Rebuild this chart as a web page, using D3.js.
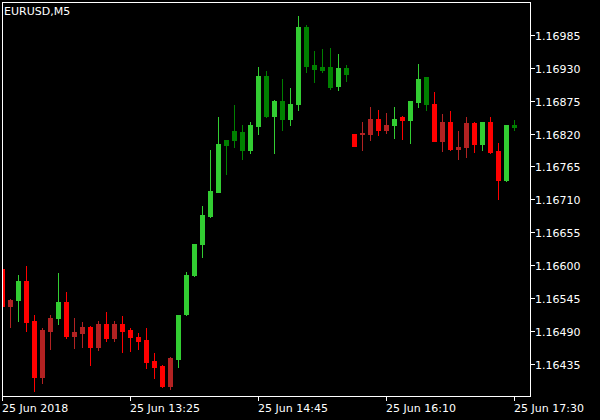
<!DOCTYPE html>
<html>
<head>
<meta charset="utf-8">
<script src="https://cdn.jsdelivr.net/npm/d3@7"></script>
<style>
  html, body { margin: 0; padding: 0; background: #000; }
  svg { display: block; }
  text { font-family: "DejaVu Sans", sans-serif; font-size: 11px; fill: #fff; }
</style>
</head>
<body>
<div id="chart"></div>
<script>
var W = 600, H = 420;

// M5 bars, oldest first
var open  = [1.16594,1.16531,1.16541,1.16573,1.16506,1.16413,1.16489,1.16511,1.16538,1.16481,
             1.16486,1.16496,1.16463,1.16501,1.16478,1.16501,1.16491,1.16480,1.16474,1.16439,
             1.16430,1.16397,1.16443,1.16518,1.16583,1.16635,1.16682,1.16722,1.16801,1.16809,
             1.16822,1.16792,1.16833,1.16917,1.16849,1.16875,1.16844,1.16869,1.16999,1.16934,
             1.16926,1.16932,1.16899,1.16929,1.16820,1.16820,1.16819,1.16845,1.16826,1.16834,
             1.16847,1.16842,1.16873,1.16914,1.16870,1.16807,1.16840,1.16794,1.16797,1.16837,
             1.16802,1.16840,1.16790,1.16742,1.16835];
var high  = [1.16598,1.16543,1.16583,1.16598,1.16517,1.16494,1.16517,1.16586,1.16554,1.16512,
             1.16504,1.16497,1.16506,1.16521,1.16506,1.16514,1.16494,1.16486,1.16494,1.16452,
             1.16432,1.16446,1.16517,1.16588,1.16635,1.16698,1.16793,1.16847,1.16809,1.16867,
             1.16835,1.16839,1.16932,1.16924,1.16877,1.16912,1.16897,1.17016,1.17001,1.16959,
             1.16961,1.16964,1.16954,1.16934,1.16820,1.16840,1.16865,1.16859,1.16855,1.16864,
             1.16850,1.16874,1.16937,1.16914,1.16889,1.16852,1.16857,1.16824,1.16847,1.16840,
             1.16840,1.16847,1.16805,1.16835,1.16842];
var low   = [1.16530,1.16496,1.16506,1.16489,1.16389,1.16403,1.16459,1.16501,1.16478,1.16461,
             1.16463,1.16433,1.16458,1.16473,1.16473,1.16454,1.16456,1.16459,1.16428,1.16411,
             1.16396,1.16392,1.16429,1.16516,1.16582,1.16613,1.16680,1.16722,1.16752,1.16797,
             1.16777,1.16787,1.16819,1.16848,1.16787,1.16826,1.16834,1.16859,1.16923,1.16906,
             1.16923,1.16894,1.16893,1.16908,1.16799,1.16792,1.16809,1.16817,1.16821,1.16812,
             1.16811,1.16804,1.16864,1.16859,1.16807,1.16791,1.16792,1.16777,1.16781,1.16789,
             1.16792,1.16787,1.16710,1.16740,1.16826];
var close = [1.16531,1.16542,1.16573,1.16505,1.16413,1.16491,1.16512,1.16538,1.16481,1.16487,
             1.16496,1.16463,1.16501,1.16478,1.16501,1.16489,1.16479,1.16473,1.16438,1.16429,
             1.16397,1.16444,1.16517,1.16584,1.16635,1.16683,1.16723,1.16802,1.16809,1.16824,
             1.16792,1.16834,1.16917,1.16849,1.16875,1.16844,1.16870,1.16999,1.16933,1.16928,
             1.16932,1.16898,1.16929,1.16919,1.16799,1.16821,1.16845,1.16826,1.16835,1.16845,
             1.16842,1.16874,1.16912,1.16869,1.16807,1.16840,1.16794,1.16798,1.16837,1.16802,
             1.16840,1.16789,1.16742,1.16835,1.16831];
// candle class from the indicator colouring
var tone  = ["bear","bearWeak","bull","bear","bear","bearWeak","bearWeak","bull","bear","bearWeak",
             "bearWeak","bear","bearWeak","bear","bearWeak","bear","bear","bear","bear","bear",
             "bear","bearWeak","bull","bull","bull","bull","bull","bull","bullWeak","bullWeak",
             "bullWeak","bull","bull","bullWeak","bull","bullWeak","bull","bull","bullWeak","bullWeak",
             "bullWeak","bullWeak","bull","bullWeak","bear","bearWeak","bearWeak","bear","bearWeak","bull",
             "bear","bull","bull","bullWeak","bear","bearWeak","bear","bearWeak","bearWeak","bear",
             "bull","bear","bear","bull","bullWeak"];

var priceTicks = [1.16435,1.16490,1.16545,1.16600,1.16655,1.16710,1.16765,1.16820,1.16875,1.16930,1.16985];
var timeTickBars = [0,16,32,48,64];
var timeTickLabels = ["25 Jun 2018","25 Jun 13:25","25 Jun 14:45","25 Jun 16:10","25 Jun 17:30"];

var bars = open.map(function(o, i) {
	return { i: i, o: o, h: high[i], l: low[i], c: close[i], t: tone[i] };
});

// plot frame (window.top is read-only, so no plain "top" here)
var pL = 2, pT = 2, pR = 530, pB = 396;

var x = d3.scaleLinear().domain([0, 64]).range([2, 514]);
var y = d3.scaleLinear().domain([1.16435, 1.16985]).range([363.5, 35]);
var color = d3.scaleOrdinal()
	.domain(["bull","bullWeak","bear","bearWeak"])
	.range(["#32cd32","#008000","#ff0000","#b22222"]);

function py(p) { return Math.round(y(p)); }

var svg = d3.select("#chart").append("svg")
	.attr("width", W).attr("height", H)
	.style("background", "#000");

svg.append("clipPath").attr("id", "plot")
	.append("rect").attr("x", pL + 1).attr("y", pT + 1)
	.attr("width", pR - pL - 1).attr("height", pB - pT - 1);

var candles = svg.append("g").attr("clip-path", "url(#plot)")
	.attr("shape-rendering", "crispEdges")
	.selectAll("g").data(bars).enter().append("g")
	.attr("fill", function(d) { return color(d.t); });

candles.append("rect")
	.attr("x", function(d) { return x(d.i); })
	.attr("width", 1)
	.attr("y", function(d) { return py(d.h); })
	.attr("height", function(d) { return py(d.l) - py(d.h) + 1; });

candles.append("rect")
	.attr("x", function(d) { return x(d.i) - 2; })
	.attr("width", 5)
	.attr("y", function(d) { return Math.min(py(d.o), py(d.c)); })
	.attr("height", function(d) { return Math.abs(py(d.o) - py(d.c)) + 1; });

// frame
svg.append("rect")
	.attr("x", pL + 0.5).attr("y", pT + 0.5)
	.attr("width", pR - pL).attr("height", pB - pT)
	.attr("fill", "none").attr("stroke", "#fff").attr("stroke-width", 1)
	.attr("shape-rendering", "crispEdges");

// price axis
var yAxis = svg.append("g").selectAll("g").data(priceTicks).enter().append("g");
yAxis.append("line")
	.attr("x1", pR).attr("x2", pR + 5)
	.attr("y1", function(d) { return py(d) + 0.5; })
	.attr("y2", function(d) { return py(d) + 0.5; })
	.attr("stroke", "#fff").attr("shape-rendering", "crispEdges");
yAxis.append("text")
	.attr("x", pR + 5)
	.attr("y", function(d) { return py(d) + 4.5; })
	.text(function(d) { return d.toFixed(5); });

// time axis
var xAxis = svg.append("g").selectAll("g").data(timeTickBars).enter().append("g");
xAxis.append("line")
	.attr("x1", function(d) { return x(d) + 0.5; })
	.attr("x2", function(d) { return x(d) + 0.5; })
	.attr("y1", pB).attr("y2", pB + 5)
	.attr("stroke", "#fff").attr("shape-rendering", "crispEdges");
xAxis.append("text")
	.attr("x", function(d) { return x(d); })
	.attr("y", 412)
	.text(function(d, i) { return timeTickLabels[i]; });

svg.append("text").attr("x", 4).attr("y", 15).text("EURUSD,M5");
</script>
</body>
</html>
